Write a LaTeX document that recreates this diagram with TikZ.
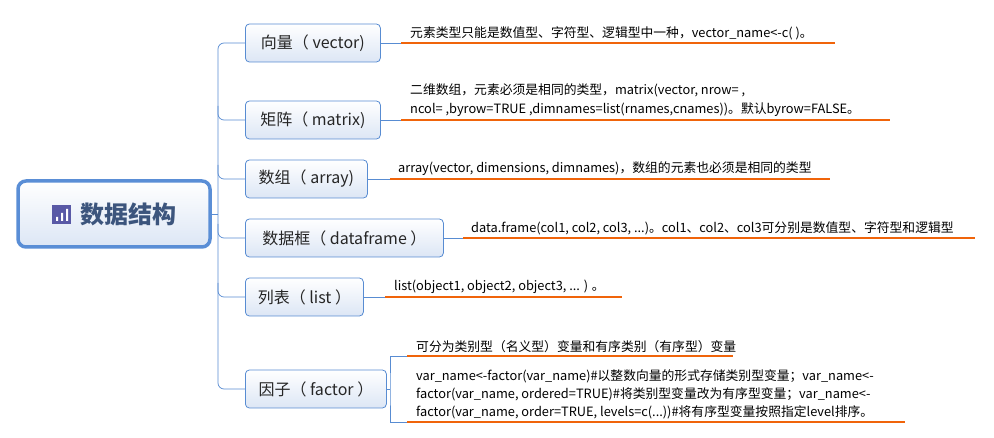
\documentclass[tikz,border=0pt]{standalone}
\usepackage{fontspec}
\setmainfont{Noto Sans CJK SC}
\definecolor{bline}{RGB}{88,140,210}
\definecolor{rline}{RGB}{90,142,214}
\definecolor{rtext}{RGB}{60,85,125}
\definecolor{fillb}{RGB}{220,230,245}
\definecolor{orng}{RGB}{240,100,10}
\begin{document}
\begin{tikzpicture}[x=1pt,y=-1pt,
  br/.style={draw=bline,line width=0.8pt,rounded corners=4pt,
     top color=white,bottom color=fillb,anchor=west,minimum height=38pt,
     inner xsep=8pt,font=\fontsize{16}{18}\selectfont,text=black!85},
  lf/.style={anchor=south west,inner sep=2pt,font=\fontsize{12.8}{19}\selectfont,align=left,text=black},
  ul/.style={draw=orng,line width=1.6pt},
  ln/.style={draw=bline,line width=0.7pt}]
\useasboundingbox (0,0) rectangle (994,438);
\fill[white] (0,0) rectangle (994,438);
% root
\node[draw=rline,line width=3.5pt,rounded corners=8pt,top color=white,bottom color=fillb,
  minimum width=192pt,minimum height=66pt] (root) at (114,214) {};
\node[font=\fontsize{24}{26}\selectfont\bfseries,text=rtext] (rt) at (128,214) {数据结构};
\fill[gray!70!blue] (52,205) rectangle (71,224);
\fill[white] (56,217) rectangle (58,221) (61,213) rectangle (63,221) (66,209) rectangle (68,221);
% trunk
\coordinate (tk) at (218,214);
\draw[ln] (root.east) -- (tk);
\draw[ln,rounded corners=6pt] (245,43) -| (218,389) -- (245,389);
% branches
\node[br,minimum width=135pt] (v) at (245,43) {向量（ vector)};
\node[br,minimum width=135pt] (m) at (245,120) {矩阵（ matrix)};
\node[br,minimum width=122pt] (a) at (245,179) {数组（ array)};
\node[br,minimum width=198pt] (d) at (245,238) {数据框（ dataframe ）};
\node[br,minimum width=118pt] (l) at (245,297) {列表（ list ）};
\node[br,minimum width=141pt] (f) at (245,389) {因子（ factor ）};
\foreach \y in {120,179,238,297}{\draw[ln,rounded corners=6pt] (218,\y-14) -- (218,\y) -- (245,\y);}
% leaves
\coordinate (v1) at (401,43); \coordinate (v2) at (835,43);
\draw[ln] (v.east) -- (v1); \draw[ul] (v1) -- (v2);
\node[lf] (vt) at (408,42) {元素类型只能是数值型、字符型、逻辑型中一种，vector\_name<-c( )。};
\coordinate (m1) at (401,120); \coordinate (m2) at (890,120);
\draw[ln] (m.east) -- (m1); \draw[ul] (m1) -- (m2);
\node[lf] (mt) at (408,119) {二维数组，元素必须是相同的类型，matrix(vector, nrow= ,\\ncol= ,byrow=TRUE ,dimnames=list(rnames,cnames))。默认byrow=FALSE。};
\coordinate (a1) at (390,179); \coordinate (a2) at (830,179);
\draw[ln] (a.east) -- (a1); \draw[ul] (a1) -- (a2);
\node[lf] (at) at (396,178) {array(vector, dimensions, dimnames)，数组的元素也必须是相同的类型};
\coordinate (d1) at (463,238); \coordinate (d2) at (975,238);
\draw[ln] (d.east) -- (d1); \draw[ul] (d1) -- (d2);
\node[lf] (dt) at (469,237) {data.frame(col1, col2, col3, ...)。col1、col2、col3可分别是数值型、字符型和逻辑型};
\coordinate (l1) at (385,297); \coordinate (l2) at (622,297);
\draw[ln] (l.east) -- (l1); \draw[ul] (l1) -- (l2);
\node[lf] (lt) at (392,296) {list(object1, object2, object3, ... ) 。};
\coordinate (fb) at (390,389);
\coordinate (f1) at (407,356); \coordinate (f2) at (733,356);
\coordinate (f3) at (407,422); \coordinate (f4) at (905,422);
\draw[ln] (f.east) -- (fb);
\draw[ln] (f1) -| (fb) |- (f3);
\draw[ul] (f1) -- (f2); \draw[ul] (f3) -- (f4);
\node[lf] (ft1) at (414,355) {可分为类别型（名义型）变量和有序类别（有序型）变量};
\node[lf,font=\fontsize{12.8}{18}\selectfont] (ft2) at (414,421) {var\_name<-factor(var\_name)\#以整数向量的形式存储类别型变量；var\_name<-\\factor(var\_name, ordered=TRUE)\#将类别型变量改为有序型变量；var\_name<-\\factor(var\_name, order=TRUE, levels=c(...))\#将有序型变量按照指定level排序。};
\end{tikzpicture}
\end{document}
